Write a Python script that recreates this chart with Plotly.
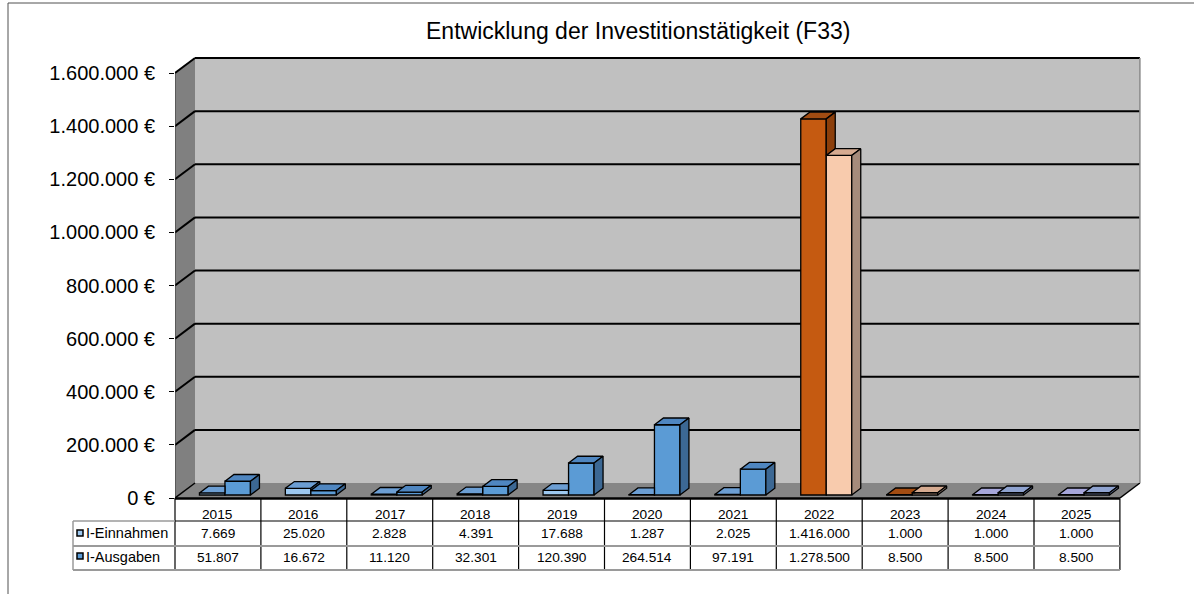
import plotly.graph_objects as go

# ---------------- data ----------------
years = ["2015", "2016", "2017", "2018", "2019", "2020", "2021", "2022", "2023", "2024", "2025"]
einnahmen = [7669, 25020, 2828, 4391, 17688, 1287, 2025, 1416000, 1000, 1000, 1000]
ausgaben = [51807, 16672, 11120, 32301, 120390, 264514, 97191, 1278500, 8500, 8500, 8500]
series_names = ["I-Einnahmen", "I-Ausgaben"]
y_ticks = [0, 200000, 400000, 600000, 800000, 1000000, 1200000, 1400000, 1600000]
title_text = "Entwicklung der Investitionstätigkeit (F33)"

# per-point colours (front / top / side)
ein_front = ["#9DC8F0"] * 7 + ["#C55A11"] * 2 + ["#B4B4E6"] * 2
ein_top = ["#6C9ED3"] * 7 + ["#A24C12"] * 2 + ["#A6A6DA"] * 2
ein_side = ["#41709F"] * 7 + ["#8C3F0B"] * 2 + ["#7C7CA8"] * 2
aus_front = ["#5B9BD5"] * 7 + ["#F8CBAD"] * 2 + ["#9DB3E0"] * 2
aus_top = ["#4F86C0"] * 7 + ["#D6AB91"] * 2 + ["#8FA3D0"] * 2
aus_side = ["#3C6894"] * 7 + ["#A68B7B"] * 2 + ["#6D7FA8"] * 2

# ---------------- layout geometry (pixels) ----------------
W, H = 1194, 594
PL, PR, PT, PB = 175, 1142, 56, 498
Y_TICK_TOP_PX = 73
CAT_PX = 85.9
X_MIN = -0.5
X_MAX = X_MIN + (PR - PL) / CAT_PX
Y_TOP = y_ticks[-1] * (PB - PT) / (PB - Y_TICK_TOP_PX)
DX = 20 / CAT_PX
DY = 15 * Y_TOP / (PB - PT)
N = len(years)
X_LAST = N - 0.5

BW = 25.5 / CAT_PX
EIN_OFF = -18.5 / CAT_PX
BASE = 0.2 * DY
BD_X = 0.45 * DX
BD_Y = 0.45 * DY

FONT = "Arial, Liberation Sans, sans-serif"


def px_x(px):
    return (px - PL) / (PR - PL)


def px_y(py):
    return (PB - py) / (PB - PT)


def fmt(v):
    return f"{v:,}".replace(",", ".")


fig = go.Figure()

# ---------------- front faces as bars ----------------
xs = list(range(N))
fig.add_trace(go.Bar(
    x=xs, y=einnahmen, base=[BASE] * N, width=BW, offset=EIN_OFF,
    marker=dict(color=ein_front, line=dict(color="black", width=1.3)),
    name=series_names[0], hoverinfo="skip", showlegend=False))
fig.add_trace(go.Bar(
    x=xs, y=ausgaben, base=[BASE] * N, width=BW, offset=EIN_OFF + BW,
    marker=dict(color=aus_front, line=dict(color="black", width=1.3)),
    name=series_names[1], hoverinfo="skip", showlegend=False))

# ---------------- top / side faces ----------------
polys = []  # (order, color, points)
for i in range(N):
    ex0 = i + EIN_OFF
    ex1 = ex0 + BW
    ax0 = ex1
    ax1 = ax0 + BW
    hE = BASE + einnahmen[i]
    hA = BASE + ausgaben[i]
    if einnahmen[i] >= ausgaben[i]:
        top = [(ex0, hE), (ex1, hE), (ex1 + BD_X, hE + BD_Y), (ex0 + BD_X, hE + BD_Y)]
    elif hA >= hE + BD_Y:
        top = [(ex0, hE), (ex1, hE), (ex1, hE + BD_Y), (ex0 + BD_X, hE + BD_Y)]
    else:
        xc = ex1 + (hA - hE) / BD_Y * BD_X
        top = [(ex0, hE), (ex1, hE), (ex1, hA), (xc, hA),
               (ex1 + BD_X, hE + BD_Y), (ex0 + BD_X, hE + BD_Y)]
    polys.append((0, ein_top[i], top))
    if einnahmen[i] > ausgaben[i]:
        side = [(ex1, hA), (ex1, hE), (ex1 + BD_X, hE + BD_Y), (ex1 + BD_X, hA + BD_Y)]
        polys.append((1, ein_side[i], side))
    polys.append((2, aus_top[i], [(ax0, hA), (ax1, hA), (ax1 + BD_X, hA + BD_Y), (ax0 + BD_X, hA + BD_Y)]))
    polys.append((3, aus_side[i], [(ax1, BASE), (ax1, hA), (ax1 + BD_X, hA + BD_Y), (ax1 + BD_X, BASE + BD_Y)]))

groups = {}
for order, col, pts in polys:
    groups.setdefault((order, col), []).append(pts)
for (order, col) in sorted(groups.keys(), key=lambda k: k[0]):
    gx, gy = [], []
    for pts in groups[(order, col)]:
        gx += [p[0] for p in pts] + [pts[0][0], None]
        gy += [p[1] for p in pts] + [pts[0][1], None]
    fig.add_trace(go.Scatter(x=gx, y=gy, mode="lines", fill="toself", fillcolor=col,
                             line=dict(color="black", width=1.3), hoverinfo="skip",
                             showlegend=False))

# ---------------- walls, floor, gridlines ----------------
shapes = []
x_back0 = X_MIN + DX
x_back1 = X_LAST + DX
top_v = y_ticks[-1]
shapes.append(dict(type="rect", xref="x", yref="y", x0=x_back0, x1=x_back1, y0=DY, y1=top_v + DY,
                   fillcolor="#C0C0C0", line=dict(width=0), layer="below"))
shapes.append(dict(type="path", xref="x", yref="y",
                   path=f"M {X_MIN},0 L {X_MIN},{top_v} L {x_back0},{top_v + DY} L {x_back0},{DY} Z",
                   fillcolor="#808080", line=dict(width=0), layer="below"))
shapes.append(dict(type="path", xref="x", yref="y",
                   path=f"M {X_MIN},0 L {X_LAST},0 L {x_back1},{DY} L {x_back0},{DY} Z",
                   fillcolor="#868686", line=dict(width=0), layer="below"))
for v in y_ticks[1:]:
    shapes.append(dict(type="line", xref="x", yref="y", x0=x_back0, x1=x_back1, y0=v + DY, y1=v + DY,
                       line=dict(color="black", width=2), layer="below"))
    shapes.append(dict(type="line", xref="x", yref="y", x0=X_MIN, x1=x_back0, y0=v, y1=v + DY,
                       line=dict(color="black", width=2), layer="below"))
shapes.append(dict(type="line", xref="x", yref="y", x0=X_MIN, x1=x_back0, y0=0, y1=DY,
                   line=dict(color="black", width=1.5), layer="below"))
shapes.append(dict(type="line", xref="x", yref="y", x0=X_LAST, x1=x_back1, y0=0, y1=DY,
                   line=dict(color="black", width=1.5), layer="below"))
shapes.append(dict(type="line", xref="x", yref="y", x0=x_back1, x1=x_back1, y0=DY, y1=top_v + DY,
                   line=dict(color="#8A8A8A", width=1.5), layer="below"))
shapes.append(dict(type="line", xref="x", yref="y", x0=X_MIN, x1=X_MIN, y0=0, y1=top_v,
                   line=dict(color="#333333", width=1), layer="below"))

# ---------------- data table ----------------
TBL_LEFT = 73
TBL_RIGHT = PL + N * CAT_PX
shapes.append(dict(type="line", xref="paper", yref="paper", x0=px_x(PL), x1=px_x(TBL_RIGHT),
                   y0=px_y(498.5), y1=px_y(498.5), line=dict(color="black", width=2.5)))
for k in range(N + 1):
    xp = px_x(PL + k * CAT_PX)
    shapes.append(dict(type="line", xref="paper", yref="paper", x0=xp, x1=xp,
                       y0=px_y(498), y1=px_y(570), line=dict(color="black", width=1.2)))
shapes.append(dict(type="line", xref="paper", yref="paper", x0=px_x(TBL_LEFT), x1=px_x(TBL_LEFT),
                   y0=px_y(521), y1=px_y(570), line=dict(color="#9A9A9A", width=1.5)))
shapes.append(dict(type="line", xref="paper", yref="paper", x0=px_x(TBL_LEFT), x1=px_x(PL),
                   y0=px_y(521), y1=px_y(521), line=dict(color="#9A9A9A", width=1.5)))
shapes.append(dict(type="line", xref="paper", yref="paper", x0=px_x(PL), x1=px_x(TBL_RIGHT),
                   y0=px_y(521), y1=px_y(521), line=dict(color="black", width=1.2)))
for yy in (546, 570):
    shapes.append(dict(type="line", xref="paper", yref="paper", x0=px_x(TBL_LEFT), x1=px_x(TBL_RIGHT),
                       y0=px_y(yy), y1=px_y(yy), line=dict(color="#9A9A9A", width=1.8)))

# legend keys
for yk, col in ((533, ein_front[0]), (556, aus_front[0])):
    shapes.append(dict(type="rect", xref="paper", yref="paper", x0=px_x(77), x1=px_x(83),
                       y0=px_y(yk - 3), y1=px_y(yk + 3), fillcolor=col,
                       line=dict(color="black", width=1.5)))

# outer frame
shapes.append(dict(type="rect", xref="paper", yref="paper", x0=px_x(8), x1=px_x(1200),
                   y0=px_y(3), y1=px_y(600), line=dict(color="#505050", width=1),
                   fillcolor="rgba(0,0,0,0)"))

annotations = []
row_text_y = [514, 533, 557]
for i in range(N):
    cx = px_x(PL + (i + 0.5) * CAT_PX)
    for txt, ry in ((years[i], row_text_y[0]), (fmt(einnahmen[i]), row_text_y[1]),
                    (fmt(ausgaben[i]), row_text_y[2])):
        annotations.append(dict(x=cx, y=px_y(ry), xref="paper", yref="paper", text=txt,
                                showarrow=False, xanchor="center", yanchor="middle",
                                font=dict(family=FONT, size=13.7, color="black")))
for name, ry in zip(series_names, row_text_y[1:]):
    annotations.append(dict(x=px_x(84), y=px_y(ry), xref="paper", yref="paper", text=name,
                            showarrow=False, xanchor="left", yanchor="middle",
                            font=dict(family=FONT, size=14.5, color="black")))
annotations.append(dict(x=px_x(638), y=px_y(31), xref="paper", yref="paper", text=title_text,
                        showarrow=False, xanchor="center", yanchor="middle",
                        font=dict(family=FONT, size=23, color="black")))

fig.update_layout(
    width=W, height=H,
    margin=dict(l=PL, r=W - PR, t=PT, b=H - PB, pad=0),
    paper_bgcolor="white", plot_bgcolor="white",
    barmode="overlay", showlegend=False, hovermode=False,
    shapes=shapes, annotations=annotations,
    font=dict(family=FONT, color="black"),
    xaxis=dict(range=[X_MIN, X_MAX], visible=False, fixedrange=True),
    yaxis=dict(range=[0, Y_TOP], tickvals=y_ticks, ticktext=[fmt(v) + " €" for v in y_ticks],
               ticks="outside", ticklen=5, tickcolor="black", tickwidth=1,
               tickfont=dict(family=FONT, size=20, color="black"),
               showgrid=False, zeroline=False, showline=False, fixedrange=True,
               ticklabelstandoff=10),
)

fig.write_html("out.html", config={"displayModeBar": False},
               post_script="document.body.style.margin='0';")
